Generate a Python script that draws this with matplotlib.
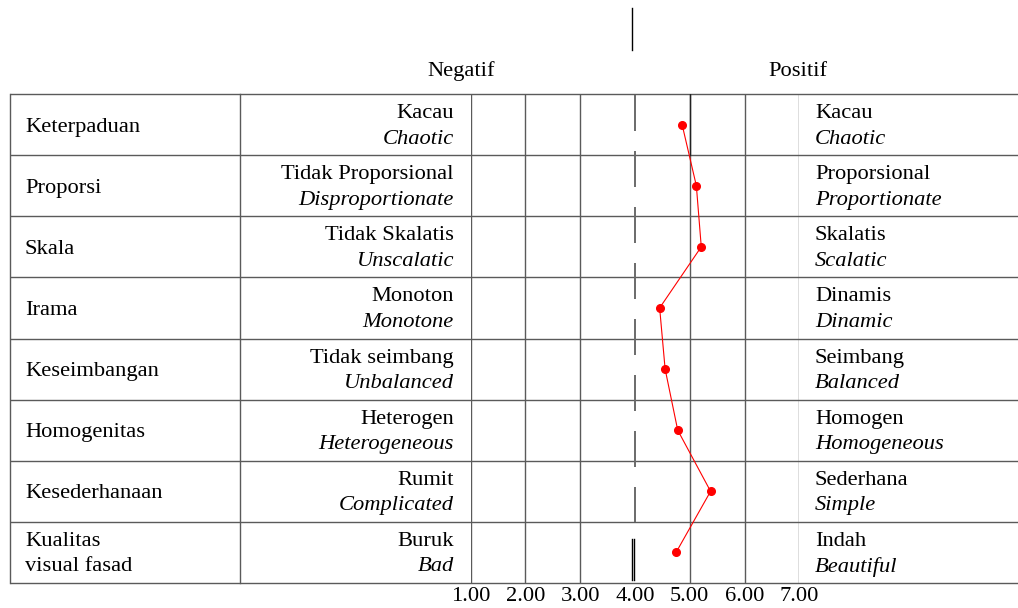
import matplotlib
matplotlib.use("Agg")
import matplotlib.pyplot as plt

plt.rcParams['font.family'] = ['Liberation Serif', 'DejaVu Serif']
plt.rcParams['lines.scale_dashes'] = False

# ---- data ----
aspects = ["Keterpaduan", "Proporsi", "Skala", "Irama", "Keseimbangan",
           "Homogenitas", "Kesederhanaan", "Kualitas\nvisual fasad"]
neg_id = ["Kacau", "Tidak Proporsional", "Tidak Skalatis", "Monoton",
          "Tidak seimbang", "Heterogen", "Rumit", "Buruk"]
neg_en = ["Chaotic", "Disproportionate", "Unscalatic", "Monotone",
          "Unbalanced", "Heterogeneous", "Complicated", "Bad"]
pos_id = ["Kacau", "Proporsional", "Skalatis", "Dinamis",
          "Seimbang", "Homogen", "Sederhana", "Indah"]
pos_en = ["Chaotic", "Proportionate", "Scalatic", "Dinamic",
          "Balanced", "Homogeneous", "Simple", "Beautiful"]
scores = [4.86, 5.12, 5.21, 4.45, 4.55, 4.78, 5.38, 4.75]
scale_ticks = [1, 2, 3, 4, 5, 6, 7]
scale_labels = ["1.00", "2.00", "3.00", "4.00", "5.00", "6.00", "7.00"]
header_neg = "Negatif"
header_pos = "Positif"

# ---- layout (pixels) ----
W, H = 1018, 608
FS = 16.2
LC = "#5a5a5a"
LW = 1.0
tbl_left, tbl_right = 10, 1030
tbl_top, tbl_bot = 94, 583
col_split = 240
x1_px, x7_px = 470.7, 799.3
n = len(aspects)
rh = (tbl_bot - tbl_top) / n
d1, d2 = -11.0, 14.5

fig = plt.figure(figsize=(W / 100, H / 100), dpi=100)
bg = fig.add_axes([0, 0, 1, 1])
bg.set_xlim(0, W)
bg.set_ylim(H, 0)
bg.axis("off")

# table frame
for i in range(n + 1):
    y = tbl_top + i * rh
    bg.plot([tbl_left, tbl_right], [y, y], color=LC, lw=LW, solid_capstyle="butt")
for x in [tbl_left, col_split]:
    bg.plot([x, x], [tbl_top, tbl_bot], color=LC, lw=LW)

# top marker line
bg.plot([632, 632], [8, 50], color="black", lw=1.0)

# headers
bg.text(461, 71, header_neg, ha="center", va="center", fontsize=FS)
bg.text(798, 71, header_pos, ha="center", va="center", fontsize=FS)

# row texts
for i in range(n):
    yc = tbl_top + (i + 0.5) * rh
    if "\n" in aspects[i]:
        a, b = aspects[i].split("\n")
        bg.text(25, yc + d1, a, ha="left", va="center", fontsize=FS)
        bg.text(25, yc + d2, b, ha="left", va="center", fontsize=FS)
    else:
        bg.text(25, yc + 2.5, aspects[i], ha="left", va="center", fontsize=FS)
    bg.text(454, yc + d1, neg_id[i], ha="right", va="center", fontsize=FS)
    bg.text(454, yc + d2, neg_en[i], ha="right", va="center", fontsize=FS, style="italic")
    bg.text(815, yc + d1, pos_id[i], ha="left", va="center", fontsize=FS)
    bg.text(815, yc + d2, pos_en[i], ha="left", va="center", fontsize=FS, style="italic")

# ---- data axes ----
ax = fig.add_axes([x1_px / W, (H - tbl_bot) / H, (x7_px - x1_px) / W, (tbl_bot - tbl_top) / H])
ax.patch.set_alpha(0)
ax.set_xlim(scale_ticks[0], scale_ticks[-1])
ax.set_ylim(n, 0)
for s in ax.spines.values():
    s.set_visible(False)
ax.set_yticks([])
ax.set_xticks(scale_ticks)
ax.set_xticklabels(scale_labels, fontsize=FS)
ax.tick_params(axis="x", length=0, pad=3)

for t in scale_ticks:
    if t == 4:
        continue
    ax.axvline(t, color=LC, lw=LW)
# dark segment at 5 in first row
ax.plot([5, 5], [0, 1], color="#222222", lw=LW)

# dashed midpoint line
px = 1.0 / rh  # one pixel in row units
ax.plot([4, 4], [0 + 1 * px, n - 61 * px], color="#6a6a6a", lw=1.4,
        linestyle=(0, (36 * 0.72, 20 * 0.72)))
ax.plot([3.95, 3.95], [n - 44 * px, n - 3 * px], color="black", lw=1.0)
ax.plot([3.99, 3.99], [n - 44 * px, n - 3 * px], color="black", lw=1.0)

rows = [i + 0.5 for i in range(n)]
ax.plot(scores, rows, color="#ff0000", lw=0.8, marker="o", ms=5.5, zorder=5)

fig.savefig("out.png", dpi=100)
